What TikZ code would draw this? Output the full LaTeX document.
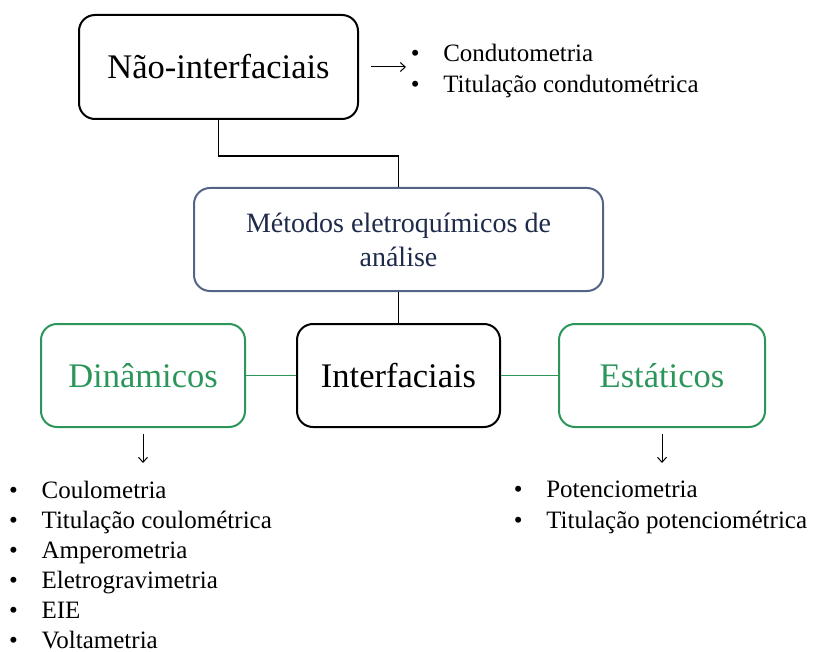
\documentclass[tikz,border=0pt]{standalone}
\usepackage{fontspec}
\setmainfont{Liberation Serif}
\usetikzlibrary{arrows.meta}
\definecolor{grn}{RGB}{44,150,90}
\definecolor{slate}{RGB}{84,100,134}
\definecolor{navy}{RGB}{30,42,74}
\newcommand{\itm}{\makebox[32.5pt][l]{•}}
\begin{document}
\begin{tikzpicture}[x=1pt,y=-1pt,
 box/.style={draw, rounded corners=16pt, line width=2pt, inner sep=0pt, align=center},
 big/.style={font=\fontsize{34.5}{40}\selectfont},
 conn/.style={line width=1.3pt},
 gconn/.style={draw=grn, line width=1.8pt},
 tip/.style={-{Straight Barb[length=5pt,width=9pt,line width=1pt]}, line width=1pt},
 listnode/.style={anchor=base west, inner sep=0pt}
]
\useasboundingbox (0,0) rectangle (813,652);
\node[box, big, minimum width=279pt, minimum height=104pt] (nao) at (218.5,67) {Não-interfaciais};
\node[box, draw=slate, text=navy, font=\fontsize{28}{34}\selectfont, minimum width=409pt, minimum height=103pt] (met) at (398.5,239.5) {Métodos eletroquímicos de\\análise};
\node[box, big, draw=grn, text=grn, minimum width=204pt, minimum height=103pt] (din) at (143,375.5) {Dinâmicos};
\node[box, big, minimum width=203pt, minimum height=103pt] (int) at (398.5,375.5) {Interfaciais};
\node[box, big, draw=grn, text=grn, minimum width=206pt, minimum height=103pt] (est) at (662,375.5) {Estáticos};

\draw[conn] (nao.south) -- ++(0,36) -| (met.north);
\draw[conn] (met.south) -- (int.north);
\draw[gconn] (din.east) -- (int.west);
\draw[gconn] (int.east) -- (est.west);

\node[listnode, font=\fontsize{25}{31}\selectfont] (lnao) at (410.6,62) {\begin{tabular}[t]{@{}l@{}}\itm Condutometria\\ \itm Titulação condutométrica\end{tabular}};
\node[listnode, font=\fontsize{25}{30}\selectfont] (ldin) at (8.9,498) {\begin{tabular}[t]{@{}l@{}}\itm Coulometria\\ \itm Titulação coulométrica\\ \itm Amperometria\\ \itm Eletrogravimetria\\ \itm EIE\\ \itm Voltametria\end{tabular}};
\node[listnode, font=\fontsize{25}{31}\selectfont] (lest) at (513.6,497) {\begin{tabular}[t]{@{}l@{}}\itm Potenciometria\\ \itm Titulação potenciométrica\end{tabular}};

\draw[tip] ([xshift=12pt]nao.east) -- ++(35,0);
\draw[tip] ([yshift=-6pt]din.south) -- ++(0,29);
\draw[tip] ([yshift=-6pt]est.south) -- ++(0,29);
\end{tikzpicture}
\end{document}
